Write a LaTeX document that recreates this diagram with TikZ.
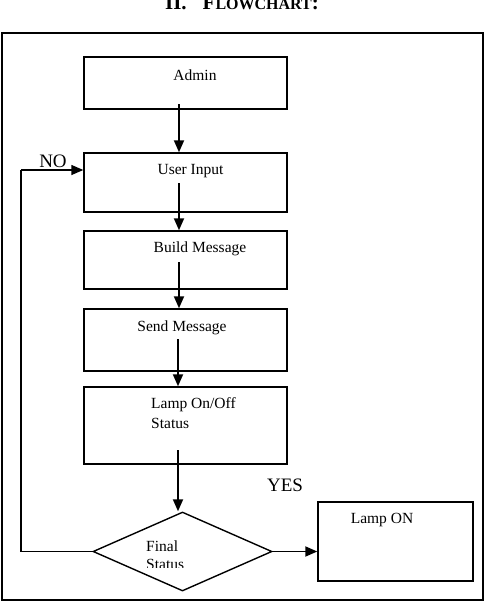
\documentclass[tikz,border=0pt]{standalone}
\usepackage{fontspec}
\setmainfont{Liberation Serif}
\usetikzlibrary{arrows.meta,shapes.geometric}
\begin{document}
\begin{tikzpicture}[x=1pt,y=-1pt,
  box/.style={draw,line width=1.4pt,inner sep=0pt,fill=white},
  lbl/.style={font=\fontsize{15.5}{18}\selectfont,inner sep=0pt},
  arr/.style={line width=1.8pt,-{Triangle[length=12pt,width=10pt]}},
  link/.style={line width=1.4pt}]
\useasboundingbox (0,0) rectangle (488,608);
% title
\node[anchor=base,inner sep=0pt] (title) at (242,9)
  {\bfseries\fontsize{21}{24}\selectfont II.\hspace{16pt}F{\fontsize{16}{20}\selectfont LOWCHART}:};
% frame
\draw[line width=1.5pt] (2,33) rectangle (483,600);
% boxes
\node[box,minimum width=203pt,minimum height=52pt] (admin) at (185.5,83) {};
\node[box,minimum width=203pt,minimum height=59pt] (input) at (185.5,182.5) {};
\node[box,minimum width=203pt,minimum height=58pt] (build) at (185.5,260) {};
\node[box,minimum width=203pt,minimum height=62pt] (send) at (185.5,340) {};
\node[box,minimum width=203pt,minimum height=77pt] (status) at (185.5,425.5) {};
\node[box,minimum width=155pt,minimum height=79pt] (lampon) at (395.5,541.5) {};
\node[box,shape=diamond,minimum width=179pt,minimum height=79pt] (final) at (182.5,551.5) {};
% texts
\node[lbl] (tadmin) at (195,75) {Admin};
\node[lbl] (tinput) at (190.5,171) {User Input};
\node[lbl] (tbuild) at (200,249) {Build Message};
\node[lbl] (tsend) at (182,328) {Send Message};
\node[lbl,anchor=west] (tstat1) at (151,405) {Lamp On/Off};
\node[lbl,anchor=west] (tstat2) at (151,423) {Status};
\node[lbl] (tlampon) at (382,520) {Lamp ON};
\node[lbl,anchor=west] (tfinal1) at (146,546) {Final};
\begin{scope}
  \clip (100,530) rectangle (260,567.5);
  \node[lbl,anchor=west] (tfinal2) at (146,564) {Status};
\end{scope}
\node[font=\fontsize{19}{22}\selectfont,inner sep=0pt] (no) at (53,161) {NO};
\node[font=\fontsize{19}{22}\selectfont,inner sep=0pt] (yes) at (285,485) {YES};
% connector start points
\coordinate (s1) at (179,104);
\coordinate (s2) at (179,183);
\coordinate (s3) at (179,262);
\coordinate (s4) at (178,339);
\coordinate (s5) at (178,450);
\coordinate (c1) at (21,551.5);
\coordinate (c2) at (21,170);
% connectors
\draw[arr] (s1) -- (input.north -| s1);
\draw[arr] (s2) -- (build.north -| s2);
\draw[arr] (s3) -- (send.north -| s3);
\draw[arr] (s4) -- (status.north -| s4);
\draw[arr] (s5) -- (final.north -| s5);
\draw[arr] (final.east) -- (lampon.west |- final.east);
\draw[link] (final.west) -- (c1) -- (c2);
\draw[arr,line width=1.4pt] (c2) -- (input.west |- c2);
\end{tikzpicture}
\end{document}
